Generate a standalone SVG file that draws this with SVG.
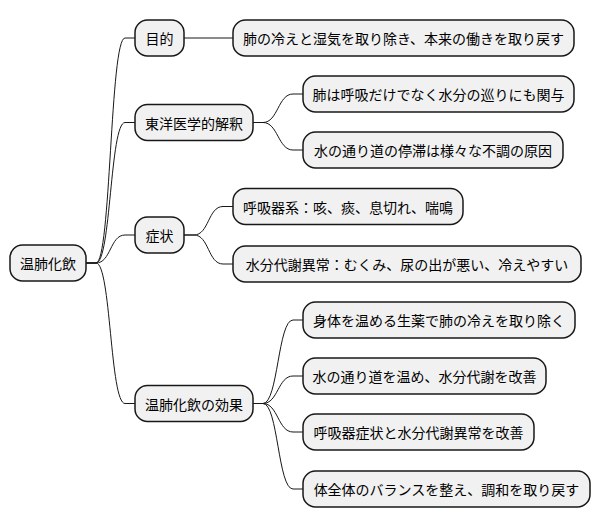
<svg xmlns="http://www.w3.org/2000/svg" width="600" height="527" viewBox="0 0 600 527">
<style>
rect{fill:#F1F1F1;stroke:#181818;stroke-width:1.5}
text{font-family:"Noto Sans CJK JP","Noto Sans",sans-serif;font-size:14px;fill:#000;text-anchor:middle;dominant-baseline:central}
.c path{fill:none;stroke:#181818;stroke-width:1}
</style>
<rect x="0" y="0" width="600" height="527" style="fill:#fff;stroke:none"/>
<g class="c" id="connectors">
<path d="M86,263 L96,263 C111,263 110,38 125,38 L135,38"/>
<path d="M86,263 L96,263 C111,263 110,122.5 125,122.5 L135,122.5"/>
<path d="M86,263 L96,263 C111,263 110,235 125,235 L135,235"/>
<path d="M86,263 L96,263 C111,263 110,403.5 125,403.5 L135,403.5"/>
<path d="M184,38 L233,38"/>
<path d="M253,122.5 L263,122.5 C278,122.5 278,94 293,94 L303,94"/>
<path d="M253,122.5 L263,122.5 C278,122.5 278,150 293,150 L303,150"/>
<path d="M184,235 L194,235 C209,235 208,206.5 223,206.5 L233,206.5"/>
<path d="M184,235 L194,235 C209,235 208,264 223,264 L233,264"/>
<path d="M253,403.5 L263,403.5 C278,403.5 278,320 293,320 L303,320"/>
<path d="M253,403.5 L263,403.5 C278,403.5 278,376 293,376 L303,376"/>
<path d="M253,403.5 L263,403.5 C278,403.5 278,432 293,432 L303,432"/>
<path d="M253,403.5 L263,403.5 C278,403.5 278,489 293,489 L303,489"/>
</g>
<g id="root"><rect x="10" y="245" width="76" height="36" rx="12.5"/><text x="48" y="263">温肺化飲</text></g>
<g id="n1"><rect x="135" y="20" width="49" height="36" rx="12.5"/><text x="159.5" y="38">目的</text></g>
<g id="n1a"><rect x="233" y="20" width="341" height="36" rx="12.5"/><text x="403.5" y="38">肺の冷えと湿気を取り除き、本来の働きを取り戻す</text></g>
<g id="n2"><rect x="135" y="104.5" width="118" height="36" rx="12.5"/><text x="194" y="122.5">東洋医学的解釈</text></g>
<g id="n2a"><rect x="303" y="76" width="271" height="36" rx="12.5"/><text x="438.5" y="94">肺は呼吸だけでなく水分の巡りにも関与</text></g>
<g id="n2b"><rect x="303" y="132" width="260" height="36" rx="12.5"/><text x="433" y="150">水の通り道の停滞は様々な不調の原因</text></g>
<g id="n3"><rect x="135" y="217" width="49" height="36" rx="12.5"/><text x="159.5" y="235">症状</text></g>
<g id="n3a"><rect x="233" y="188.5" width="230" height="36" rx="12.5"/><text x="348" y="206.5">呼吸器系：咳、痰、息切れ、喘鳴</text></g>
<g id="n3b"><rect x="233" y="246" width="348" height="36" rx="12.5"/><text x="407" y="264">水分代謝異常：むくみ、尿の出が悪い、冷えやすい</text></g>
<g id="n4"><rect x="135" y="385.5" width="118" height="36" rx="12.5"/><text x="194" y="403.5">温肺化飲の効果</text></g>
<g id="n4a"><rect x="303" y="302" width="272" height="36" rx="12.5"/><text x="439" y="320">身体を温める生薬で肺の冷えを取り除く</text></g>
<g id="n4b"><rect x="303" y="358" width="243" height="36" rx="12.5"/><text x="424.5" y="376">水の通り道を温め、水分代謝を改善</text></g>
<g id="n4c"><rect x="303" y="414" width="231" height="36" rx="12.5"/><text x="418.5" y="432">呼吸器症状と水分代謝異常を改善</text></g>
<g id="n4d"><rect x="303" y="471" width="287" height="36" rx="12.5"/><text x="446.5" y="489">体全体のバランスを整え、調和を取り戻す</text></g>
</svg>
